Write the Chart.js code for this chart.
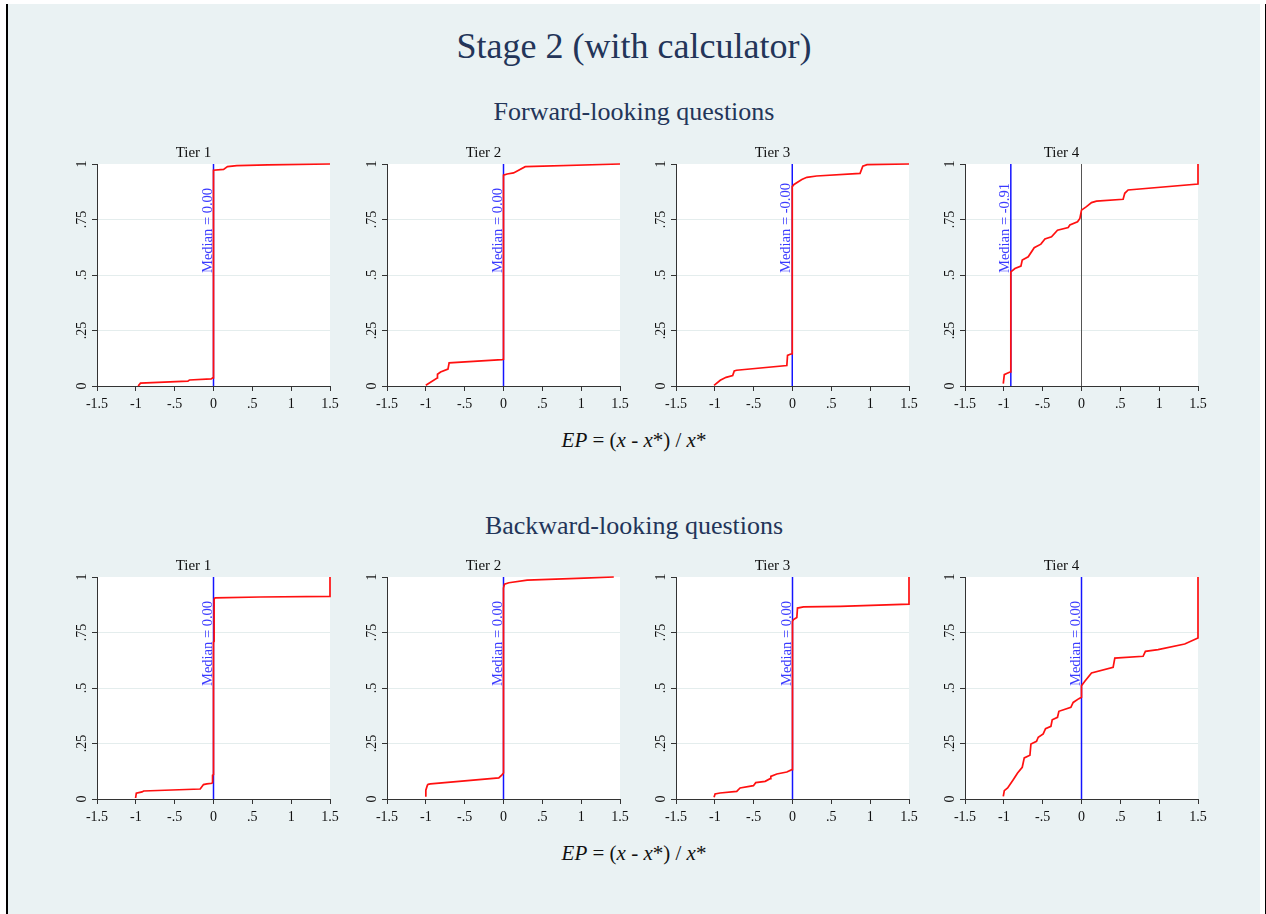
<!DOCTYPE html>
<html>
<head>
<meta charset="utf-8">
<script src="https://cdn.jsdelivr.net/npm/chart.js@4.4.0/dist/chart.umd.min.js"></script>
<style>
html,body{margin:0;padding:0;background:#fff;}
body{width:1266px;height:914px;position:relative;overflow:hidden;font-family:"Liberation Serif","Times New Roman",serif;}
#bg{position:absolute;left:8px;top:4px;width:1252px;height:910px;background:#eaf2f3;}
.vline{position:absolute;top:4px;height:910px;background:#000;}
.txt{position:absolute;left:8px;width:1252px;text-align:center;white-space:nowrap;line-height:1;}
canvas{position:absolute;}
</style>
</head>
<body>
<div id="bg"></div>
<div class="vline" style="left:6px;width:2px"></div>
<div class="vline" style="left:1265px;width:1px"></div>
<div class="txt" style="top:28px;font-size:36px;color:#233559">Stage 2 (with calculator)</div>
<div class="txt" style="top:99px;font-size:26px;color:#233559">Forward-looking questions</div>
<div class="txt" style="top:430px;font-size:21px;color:#111"><i>EP</i> = (<i>x</i> - <i>x</i>*) / <i>x</i>*</div>
<div class="txt" style="top:513px;font-size:26px;color:#233559">Backward-looking questions</div>
<div class="txt" style="top:843px;font-size:21px;color:#111"><i>EP</i> = (<i>x</i> - <i>x</i>*) / <i>x</i>*</div>
<script>
// ---------- data ----------
const tierTitles = ['Tier 1', 'Tier 2', 'Tier 3', 'Tier 4'];
const xTickValues = [-1.5, -1, -0.5, 0, 0.5, 1, 1.5];
const xTickLabels = ['-1.5', '-1', '-.5', '0', '.5', '1', '1.5'];
const yTickValues = [0, 0.25, 0.5, 0.75, 1];
const yTickLabels = ['0', '.25', '.5', '.75', '1'];

// Forward-looking questions: empirical CDFs
const fwd1X = [-0.97, -0.94, -0.33, -0.31, -0.03, -0.01, 0, 0, 0.13, 0.18, 0.30, 0.70, 1.50];
const fwd1Y = [0, 0.013, 0.022, 0.027, 0.032, 0.037, 0.037, 0.972, 0.976, 0.988, 0.993, 0.996, 1.0];

const fwd2X = [-1.0, -0.855, -0.85, -0.81, -0.715, -0.70, -0.017, 0, 0, 0.047, 0.13, 0.28, 1.5];
const fwd2Y = [0.003, 0.036, 0.053, 0.063, 0.076, 0.104, 0.119, 0.12, 0.95, 0.955, 0.96, 0.988, 1.0];

const fwd3X = [-1.01, -0.93, -0.855, -0.77, -0.75, -0.72, -0.073, -0.064, -0.03, -0.003, -0.003, 0.02, 0.12, 0.185, 0.31, 0.87, 0.905, 0.96, 1.5];
const fwd3Y = [0.003, 0.026, 0.039, 0.047, 0.068, 0.071, 0.092, 0.138, 0.143, 0.145, 0.898, 0.908, 0.93, 0.94, 0.946, 0.958, 0.99, 0.997, 1.0];

const fwd4X = [-1.007, -0.994, -0.964, -0.92, -0.91, -0.91, -0.857, -0.78, -0.763, -0.686, -0.609, -0.523, -0.471, -0.386, -0.309, -0.171, -0.15, -0.051, -0.021, 0, 0.064, 0.129, 0.193, 0.536, 0.557, 0.6, 1.5, 1.5];
const fwd4Y = [0.011, 0.051, 0.056, 0.063, 0.065, 0.514, 0.529, 0.54, 0.567, 0.582, 0.623, 0.639, 0.662, 0.672, 0.702, 0.714, 0.725, 0.74, 0.755, 0.792, 0.808, 0.826, 0.833, 0.841, 0.868, 0.883, 0.91, 1.0];

// Backward-looking questions: empirical CDFs
const bwd1X = [-1.003, -0.994, -0.92, -0.9, -0.171, -0.129, -0.086, -0.02, -0.012, -0.012, 0, 0, 0.008, 0.008, 0.02, 0.6, 1.5, 1.5];
const bwd1Y = [0.0045, 0.026, 0.032, 0.036, 0.045, 0.065, 0.068, 0.071, 0.075, 0.107, 0.11, 0.707, 0.71, 0.90, 0.906, 0.91, 0.913, 1.0];

const bwd2X = [-1.0, -1.0, -0.98, -0.97, -0.94, -0.06, -0.017, 0, 0, 0.013, 0.069, 0.305, 1.036, 1.42];
const bwd2Y = [0.01, 0.04, 0.062, 0.066, 0.068, 0.095, 0.11, 0.117, 0.95, 0.968, 0.974, 0.986, 0.995, 1.0];

const bwd3X = [-1.01, -0.997, -0.933, -0.718, -0.675, -0.503, -0.473, -0.352, -0.288, -0.279, -0.202, -0.073, -0.009, 0, 0, 0.013, 0.056, 0.064, 0.142, 0.615, 1.5, 1.5];
const bwd3Y = [0.0075, 0.0225, 0.027, 0.0345, 0.0495, 0.060, 0.0736, 0.0796, 0.0916, 0.102, 0.1126, 0.1216, 0.132, 0.132, 0.80, 0.808, 0.818, 0.860, 0.865, 0.868, 0.878, 1.0];

const bwd4X = [-1.007, -0.994, -0.951, -0.879, -0.823, -0.763, -0.737, -0.664, -0.651, -0.579, -0.557, -0.493, -0.463, -0.394, -0.377, -0.309, -0.291, -0.137, -0.107, -0.034, 0, 0, 0.043, 0.129, 0.407, 0.429, 0.793, 0.823, 0.986, 1.329, 1.5, 1.5];
const bwd4Y = [0.012, 0.0375, 0.0495, 0.087, 0.117, 0.143, 0.185, 0.197, 0.248, 0.26, 0.278, 0.293, 0.317, 0.327, 0.357, 0.368, 0.395, 0.413, 0.435, 0.452, 0.458, 0.51, 0.53, 0.568, 0.593, 0.635, 0.643, 0.665, 0.673, 0.698, 0.725, 1.0];

const fwdMedians = [0.00, 0.00, -0.003, -0.91];
const fwdMedianLabels = ['Median = 0.00', 'Median = 0.00', 'Median = -0.00', 'Median = -0.91'];
const bwdMedians = [0.00, 0.00, 0.00, 0.00];
const bwdMedianLabels = ['Median = 0.00', 'Median = 0.00', 'Median = 0.00', 'Median = 0.00'];

// ---------- styling / layout ----------
const FONT = 'Liberation Serif';
const RED = '#ff1010';
const BLUE = '#1414ff';
const AXIS = '#333333';
const GRID = '#e4eded';
const PLOT_LEFTS = [97, 387, 676, 965];
const PLOT_TOPS = [164, 577];
const PLOT_W = 233, PLOT_H = 222;
const PAD_L = 40, PAD_T = 24, PAD_R = 20, PAD_B = 30;

function toPts(xs, ys) { return xs.map((x, i) => ({ x: x, y: ys[i] })); }

const bgPlugin = {
  id: 'plotBg',
  beforeDraw(chart) {
    const a = chart.chartArea, c = chart.ctx;
    c.save(); c.fillStyle = '#ffffff';
    c.fillRect(a.left, a.top, a.right - a.left, a.bottom - a.top);
    c.restore();
  }
};

const yLabelPlugin = {
  id: 'yLabels',
  afterDraw(chart) {
    const s = chart.scales.y, c = chart.ctx;
    c.save();
    c.font = '14px "' + FONT + '"';
    c.fillStyle = '#111';
    c.textAlign = 'center';
    c.textBaseline = 'middle';
    s.ticks.forEach((t, i) => {
      const y = s.getPixelForValue(t.value);
      c.save();
      c.translate(s.right - 15, y);
      c.rotate(-Math.PI / 2);
      c.fillText(yTickLabels[i], 0, 0);
      c.restore();
    });
    c.restore();
  }
};

const medianPlugin = {
  id: 'medianLabel',
  afterDatasetsDraw(chart, args, opts) {
    const c = chart.ctx;
    const x = chart.scales.x.getPixelForValue(opts.value);
    const y = chart.scales.y.getPixelForValue(0.5);
    c.save();
    c.font = '14.5px "' + FONT + '"';
    c.fillStyle = '#3a3aff';
    c.textAlign = 'left';
    c.textBaseline = 'alphabetic';
    c.translate(x - 2, y - 2);
    c.rotate(-Math.PI / 2);
    c.fillText(opts.text, 0, 0);
    c.restore();
  }
};

const panels = [
  { r: 0, c: 0, xs: fwd1X, ys: fwd1Y, m: fwdMedians[0], lab: fwdMedianLabels[0] },
  { r: 0, c: 1, xs: fwd2X, ys: fwd2Y, m: fwdMedians[1], lab: fwdMedianLabels[1] },
  { r: 0, c: 2, xs: fwd3X, ys: fwd3Y, m: fwdMedians[2], lab: fwdMedianLabels[2] },
  { r: 0, c: 3, xs: fwd4X, ys: fwd4Y, m: fwdMedians[3], lab: fwdMedianLabels[3] },
  { r: 1, c: 0, xs: bwd1X, ys: bwd1Y, m: bwdMedians[0], lab: bwdMedianLabels[0] },
  { r: 1, c: 1, xs: bwd2X, ys: bwd2Y, m: bwdMedians[1], lab: bwdMedianLabels[1] },
  { r: 1, c: 2, xs: bwd3X, ys: bwd3Y, m: bwdMedians[2], lab: bwdMedianLabels[2] },
  { r: 1, c: 3, xs: bwd4X, ys: bwd4Y, m: bwdMedians[3], lab: bwdMedianLabels[3] }
];

panels.forEach(p => {
  const cv = document.createElement('canvas');
  const w = PAD_L + PLOT_W + PAD_R, h = PAD_T + PLOT_H + PAD_B;
  cv.width = w; cv.height = h;
  cv.style.width = w + 'px'; cv.style.height = h + 'px';
  cv.style.left = (PLOT_LEFTS[p.c] - PAD_L) + 'px';
  cv.style.top = (PLOT_TOPS[p.r] - PAD_T) + 'px';
  document.body.appendChild(cv);
  new Chart(cv, {
    type: 'scatter',
    data: {
      datasets: [
        { data: toPts(p.xs, p.ys), showLine: true, borderColor: RED, borderWidth: 1.7, pointRadius: 0, tension: 0, clip: 4 },
        { data: [{ x: p.m, y: 0 }, { x: p.m, y: 1 }], showLine: true, borderColor: BLUE, borderWidth: 1.5, pointRadius: 0, clip: 4 },
        { data: [{ x: 0, y: 0 }, { x: 0, y: 1 }], showLine: true, borderColor: '#555', borderWidth: 1, pointRadius: 0, clip: 4 }
      ]
    },
    options: {
      responsive: false, animation: false, devicePixelRatio: 1,
      events: [],
      layout: { padding: { left: 0, right: PAD_R, top: 0, bottom: 0 } },
      plugins: {
        legend: { display: false },
        tooltip: { enabled: false },
        title: {
          display: true, text: tierTitles[p.c], color: '#111',
          font: { family: FONT, size: 15, weight: 'normal', lineHeight: 1.2 },
          padding: { top: 4, bottom: 2 }
        },
        medianLabel: { value: p.m, text: p.lab }
      },
      scales: {
        x: {
          type: 'linear', min: -1.5, max: 1.5,
          afterBuildTicks: s => { s.ticks = xTickValues.map(v => ({ value: v })); },
          afterFit: s => { s.height = PAD_B; },
          ticks: {
            autoSkip: false, maxRotation: 0, minRotation: 0, padding: 5, color: '#111',
            font: { family: FONT, size: 14 },
            callback: (v, i) => xTickLabels[i]
          },
          grid: { drawOnChartArea: false, drawTicks: true, tickLength: 5, tickColor: AXIS },
          border: { color: AXIS, width: 1 }
        },
        y: {
          type: 'linear', min: 0, max: 1,
          afterBuildTicks: s => { s.ticks = yTickValues.map(v => ({ value: v })); },
          afterFit: s => { s.width = PAD_L; },
          ticks: { display: false },
          grid: {
            color: ctx => (ctx.tick && (ctx.tick.value === 0 || ctx.tick.value === 1)) ? 'rgba(0,0,0,0)' : GRID,
            lineWidth: 1, drawTicks: true, tickLength: 5, tickColor: AXIS
          },
          border: { color: AXIS, width: 1 }
        }
      }
    },
    plugins: [bgPlugin, yLabelPlugin, medianPlugin]
  });
});
</script>
</body>
</html>
